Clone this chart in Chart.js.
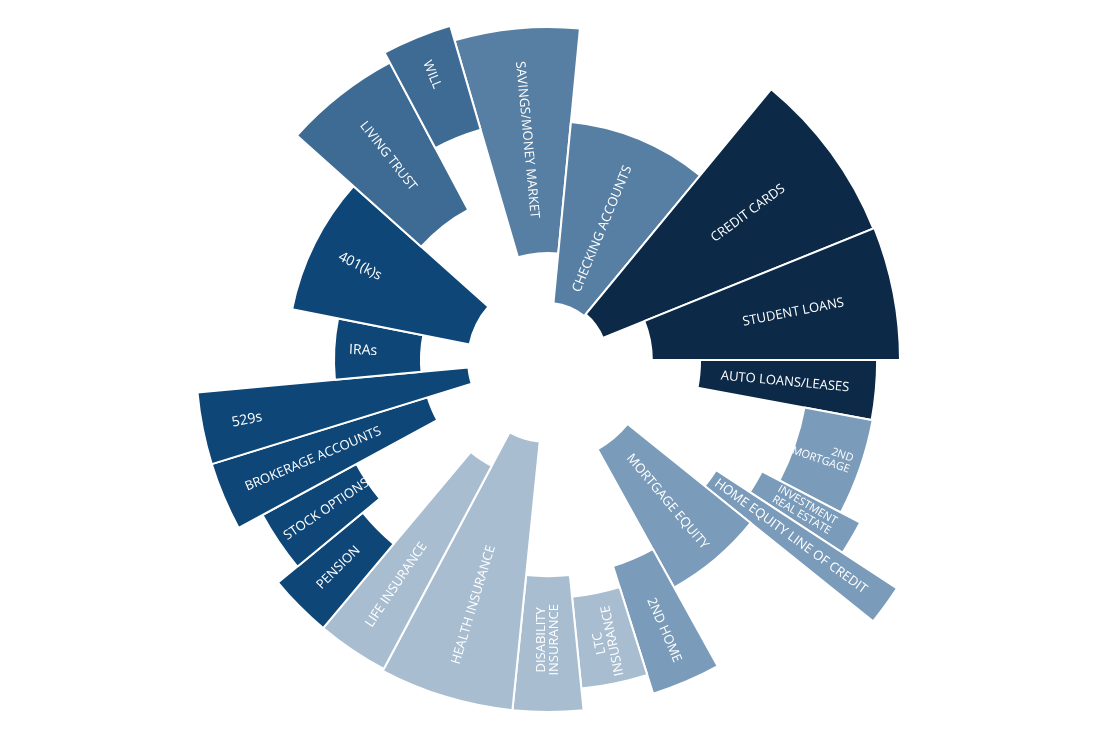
<!DOCTYPE html>
<html lang="en">
<head>
    <meta charset="UTF-8">
    <title>Financial Checklist Wheel</title>
    <script src="https://cdn.jsdelivr.net/npm/chart.js"></script>
    <style>
        html, body { margin: 0; padding: 0; background: #ffffff; }
        #wrap { width: 1110px; height: 735px; }
    </style>
</head>
<body>
    <div id="wrap"><canvas id="wheel" width="1110" height="735"></canvas></div>

    <script>
        // categories, clockwise from the top
        var labels = [
            'SAVINGS/MONEY MARKET', 'CHECKING ACCOUNTS', 'CREDIT CARDS', 'STUDENT LOANS',
            'AUTO LOANS/LEASES', ['2ND', 'MORTGAGE'], ['INVESTMENT', 'REAL ESTATE'],
            'HOME EQUITY LINE OF CREDIT', 'MORTGAGE EQUITY', '2ND HOME', ['LTC', 'INSURANCE'],
            ['DISABILITY', 'INSURANCE'], 'HEALTH INSURANCE', 'LIFE INSURANCE', 'PENSION',
            'STOCK OPTIONS', 'BROKERAGE ACCOUNTS', '529s', 'IRAs', '401(k)s', 'LIVING TRUST', 'WILL'
        ];
        // angular width of each slice (degrees)
        var sliceAngles = [21.8, 34, 28.5, 22, 10.5, 17, 5.7, 5.6, 22.2, 11.5, 11.7,
                           11.6, 22.2, 12, 10.5, 11, 11.3, 11.9, 16.5, 30.6, 20.2, 11.7];
        // outer and inner ends of each bar (0-100 radial scale)
        var outerValues = [94.6, 67.9, 99.7, 100, 93.5, 93.8, 100, 118.5, 73.9, 99.4, 93.8,
                           100, 100, 99.4, 99.4, 92.3, 100, 100, 60.8, 74.1, 95.7, 98.9];
        var innerValues = [30.4, 16.2, 16.8, 29.5, 43.2, 74.1, 68.5, 57.1, 29.0, 61.4, 67.6,
                           61.4, 23.3, 34.1, 68.2, 61.9, 35.8, 22.7, 36.1, 22.7, 48.3, 68.2];
        // colour group of each slice
        var groups = ['cash', 'cash', 'debt', 'debt', 'debt', 'home', 'home', 'home', 'home', 'home',
                      'ins', 'ins', 'ins', 'ins', 'inv', 'inv', 'inv', 'inv', 'inv', 'inv', 'estate', 'estate'];

        var groupColors = {
            cash: '#577fa3',
            debt: '#0c2948',
            home: '#7a9bb9',
            ins: '#a9bdd1',
            inv: '#0e4677',
            estate: '#3e6b94'
        };

        // where along the radius each label sits (same 0-100 radial scale)
        var labelRadius = [62.8, 40.3, 70.5, 71, 67.6, 82.5, 84.4, 85.2, 52.6, 83.5, 81.8,
                           79.5, 72.7, 77, 83.8, 75.9, 72.4, 87.2, 52.6, 59.7, 73.6, 87.5];
        // a couple of short bars need a smaller, differently aligned label
        var labelStyle = {
            5: { size: 11, align: 'right' },
            6: { size: 11, align: 'center' }
        };

        // polar area arcs start at the centre, so push each one out to its inner value
        var innerRadiusPlugin = {
            id: 'innerRadius',
            beforeDatasetsDraw: function(chart) {
                var scale = chart.scales.r;
                chart.getDatasetMeta(0).data.forEach(function(arc, i) {
                    arc.innerRadius = scale.getDistanceFromCenterForValue(innerValues[i]);
                });
            }
        };

        // rotated labels, reading outward on the right side and inward on the left
        var sliceLabelPlugin = {
            id: 'sliceLabels',
            afterDatasetsDraw: function(chart) {
                var ctx = chart.ctx;
                var scale = chart.scales.r;
                ctx.save();
                ctx.fillStyle = '#ffffff';
                ctx.textBaseline = 'middle';
                chart.getDatasetMeta(0).data.forEach(function(arc, i) {
                    var mid = (arc.startAngle + arc.endAngle) / 2;
                    var fromTop = ((mid + Math.PI / 2) * 180 / Math.PI % 360 + 360) % 360;
                    var r = scale.getDistanceFromCenterForValue(labelRadius[i]);
                    var x = arc.x + Math.cos(mid) * r;
                    var y = arc.y + Math.sin(mid) * r;
                    var rot = (fromTop > 5 && fromTop < 165) ? mid : mid + Math.PI;
                    var lines = Array.isArray(labels[i]) ? labels[i] : [labels[i]];
                    var mixed = lines[0] !== lines[0].toUpperCase();
                    var st = labelStyle[i] || { size: mixed ? 14 : 13, align: 'center' };
                    ctx.font = st.size + 'px "Open Sans", "DejaVu Sans", sans-serif';
                    var lh = st.size + 0.5;
                    var widest = Math.max.apply(null, lines.map(function(l) { return ctx.measureText(l).width; }));
                    var tx = st.align === 'right' ? widest / 2 : 0;
                    ctx.textAlign = st.align;
                    ctx.save();
                    ctx.translate(x, y);
                    ctx.rotate(rot);
                    lines.forEach(function(line, k) {
                        ctx.fillText(line, tx, (k - (lines.length - 1) / 2) * lh);
                    });
                    ctx.restore();
                });
                ctx.restore();
            }
        };

        var ctx = document.getElementById('wheel').getContext('2d');
        var wheel = new Chart(ctx, {
            type: 'polarArea',
            data: {
                labels: labels,
                datasets: [{
                    data: outerValues,
                    angle: sliceAngles,
                    backgroundColor: groups.map(function(g) { return groupColors[g]; }),
                    borderColor: '#ffffff',
                    borderWidth: 2,
                    clip: false
                }]
            },
            options: {
                responsive: false,
                animation: false,
                events: [],
                layout: {
                    padding: { top: 8, bottom: 23, left: 196, right: 210 }
                },
                plugins: {
                    legend: { display: false },
                    tooltip: { enabled: false }
                },
                scales: {
                    r: {
                        display: false,
                        min: 0,
                        max: 100,
                        startAngle: 343.7
                    }
                }
            },
            plugins: [innerRadiusPlugin, sliceLabelPlugin]
        });
    </script>
</body>
</html>
